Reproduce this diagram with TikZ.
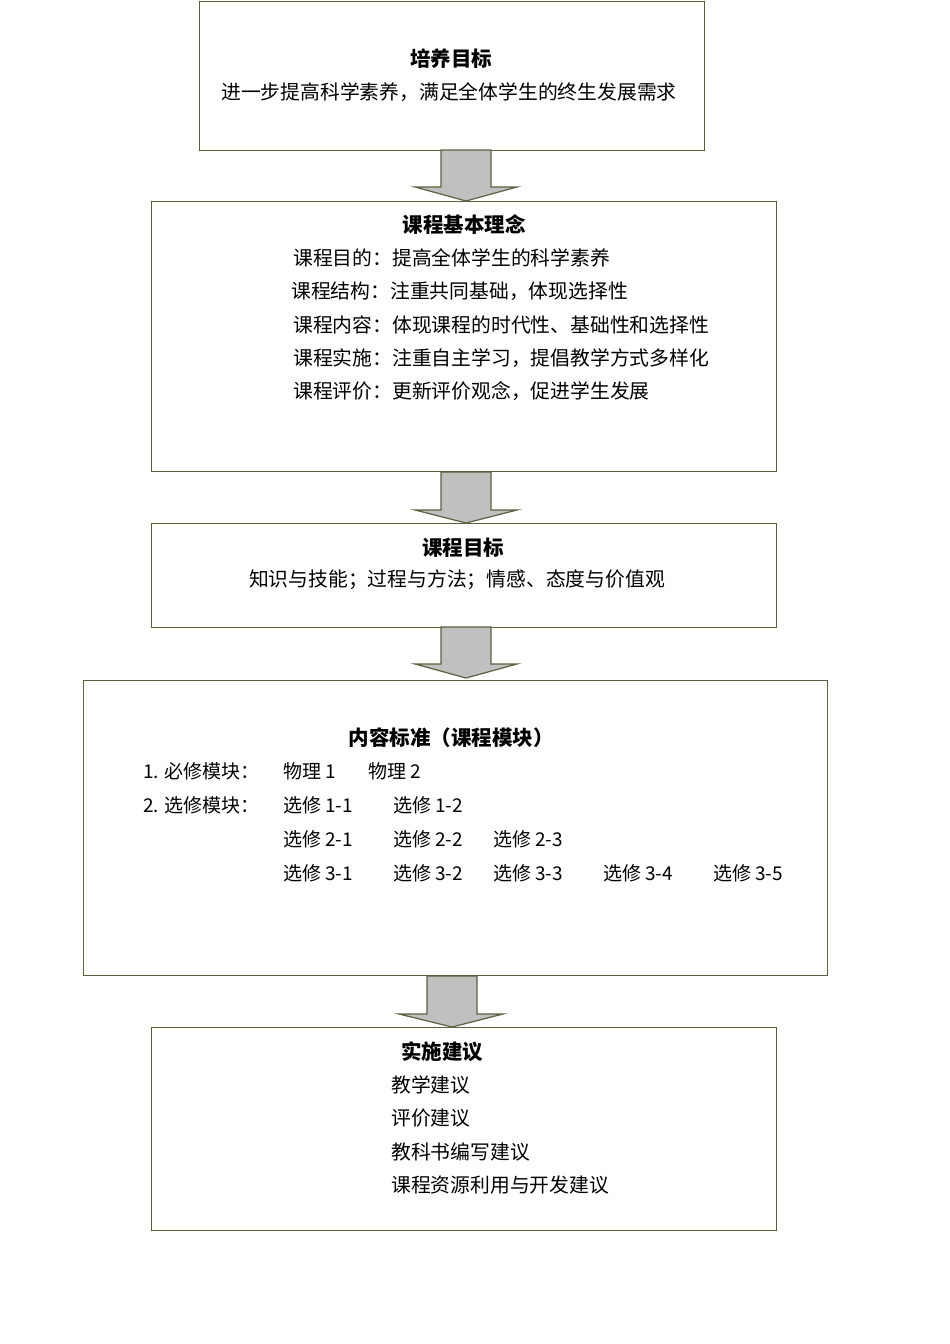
\documentclass[tikz,border=0pt]{standalone}
\usepackage{fontspec}
\newfontfamily\cjk{Noto Sans CJK SC}
\usetikzlibrary{calc}
\definecolor{bordercol}{HTML}{5E5E40}
\definecolor{arrowfill}{HTML}{C0C0C0}
\tikzset{
  box/.style={draw=bordercol, line width=1.3pt, fill=white, inner sep=0pt, anchor=north west},
  blockarrow/.style={draw=bordercol, line width=1.2pt, fill=arrowfill, line join=miter},
  ttl/.style={font=\cjk\bfseries\fontsize{20.5}{22}\selectfont, inner sep=0pt},
  txt/.style={font=\cjk\fontsize{19.8}{22}\selectfont, inner sep=0pt},
  txtl/.style={font=\cjk\fontsize{19.8}{22}\selectfont, inner sep=0pt, anchor=west},
  sm/.style={font=\cjk\fontsize{19}{21}\selectfont, inner sep=0pt, anchor=west},
}
\begin{document}
\begin{tikzpicture}[x=1pt,y=-1pt]
\useasboundingbox (0,0) rectangle (950,1344);
\fill[white] (0,0) rectangle (950,1344);

% boxes
\node[box, minimum width=505, minimum height=149] (b1) at (199,1) {};
\node[box, minimum width=625, minimum height=270] (b2) at (151,201) {};
\node[box, minimum width=625, minimum height=104] (b3) at (151,523) {};
\node[box, minimum width=744, minimum height=295] (b4) at (83,680) {};
\node[box, minimum width=625, minimum height=203] (b5) at (151,1027) {};

% block arrows
\draw[blockarrow] (441,150) -- (491,150) -- (491,187) -- (517,187) -- (466,201) -- (415,187) -- (441,187) -- cycle;
\draw[blockarrow] (441,472) -- (491,472) -- (491,510) -- (517,510) -- (466,523) -- (415,510) -- (441,510) -- cycle;
\draw[blockarrow] (441,627) -- (491,627) -- (491,664) -- (517,664) -- (466,678) -- (415,664) -- (441,664) -- cycle;
\draw[blockarrow] (427,976) -- (477,976) -- (477,1014) -- (503,1014) -- (452,1027) -- (399,1014) -- (427,1014) -- cycle;

% box 1
\node[ttl] (t1) at (451,59) {培养目标};
\node[txt] (l1) at (449,92) {进一步提高科学素养，满足全体学生的终生发展需求};

% box 2
\node[ttl] (t2) at (464,225) {课程基本理念};
\node[txtl] (l21) at (293,258) {课程目的：提高全体学生的科学素养};
\node[txtl] (l22) at (291,291) {课程结构：注重共同基础，体现选择性};
\node[txtl] (l23) at (293,325) {课程内容：体现课程的时代性、基础性和选择性};
\node[txtl] (l24) at (293,358) {课程实施：注重自主学习，提倡教学方式多样化};
\node[txtl] (l25) at (293,391) {课程评价：更新评价观念，促进学生发展};

% box 3
\node[ttl] (t3) at (463,548) {课程目标};
\node[txt] (l3) at (457,580) {知识与技能；过程与方法；情感、态度与价值观};

% box 4
\node[ttl] (t4) at (451,738) {内容标准（课程模块）};
\node[sm] (r1a) at (143,771) {1. 必修模块：};
\node[sm] (r1b) at (283,771) {物理 1};
\node[sm] (r1c) at (368,771) {物理 2};
\node[sm] (r2a) at (143,805) {2. 选修模块：};
\node[sm] (r2b) at (283,805) {选修 1-1};
\node[sm] (r2c) at (393,805) {选修 1-2};
\node[sm] (r3b) at (283,839) {选修 2-1};
\node[sm] (r3c) at (393,839) {选修 2-2};
\node[sm] (r3d) at (493,839) {选修 2-3};
\node[sm] (r4b) at (283,873) {选修 3-1};
\node[sm] (r4c) at (393,873) {选修 3-2};
\node[sm] (r4d) at (493,873) {选修 3-3};
\node[sm] (r4e) at (603,873) {选修 3-4};
\node[sm] (r4f) at (713,873) {选修 3-5};

% box 5
\node[ttl] (t5) at (442,1052) {实施建议};
\node[txtl] (l51) at (391,1085) {教学建议};
\node[txtl] (l52) at (391,1118) {评价建议};
\node[txtl] (l53) at (391,1152) {教科书编写建议};
\node[txtl] (l54) at (391,1185) {课程资源利用与开发建议};
\end{tikzpicture}
\end{document}
